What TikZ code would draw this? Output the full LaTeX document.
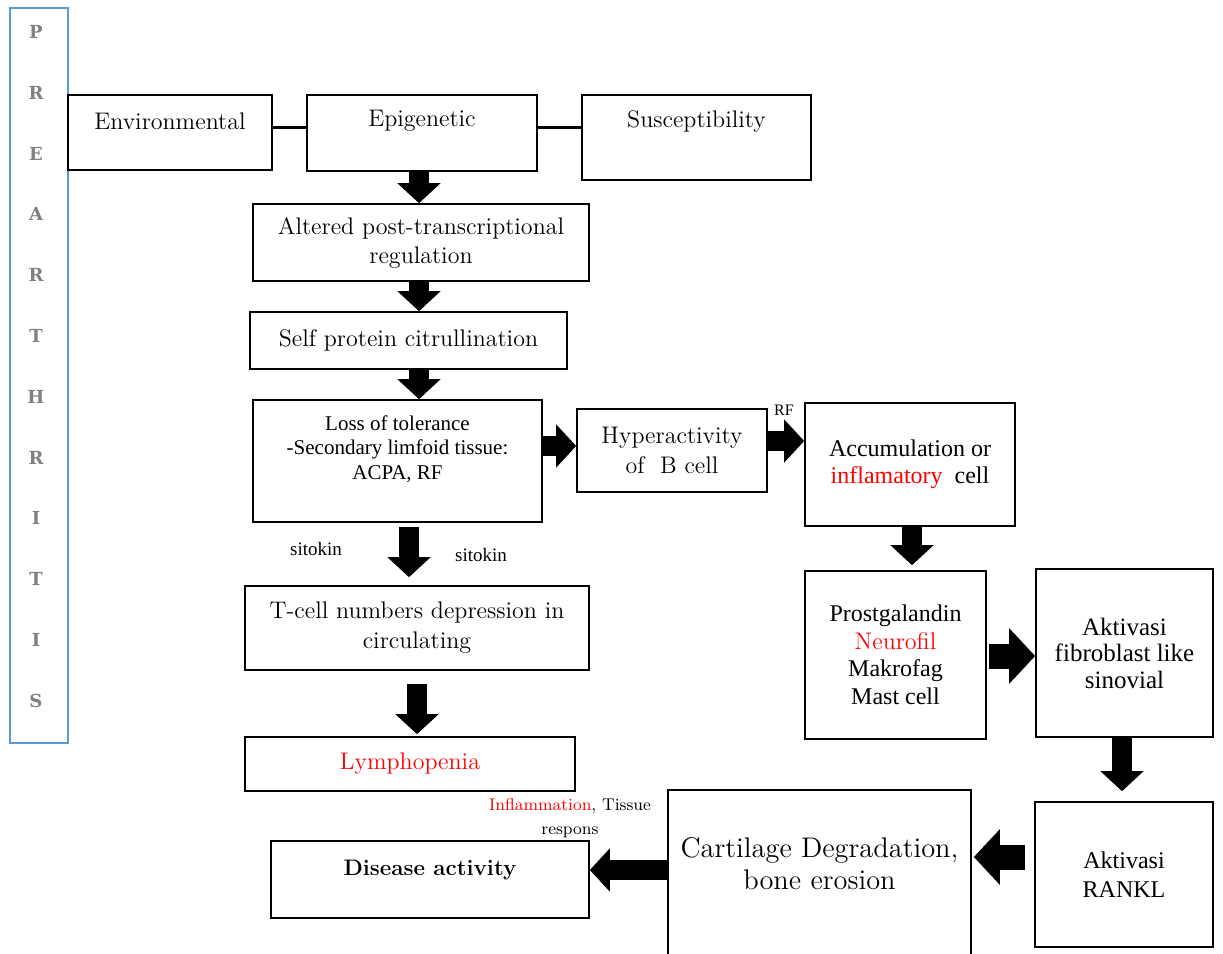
\documentclass[tikz,border=0pt]{standalone}
\usepackage{fontspec}
\usepackage{xcolor}
\usepackage{tikz}
\usetikzlibrary{arrows.meta}
\newfontfamily\tnr{Liberation Serif}
\newfontfamily\slab{DejaVu Serif}
\definecolor{wordblue}{RGB}{91,155,213}

\begin{document}
\begin{tikzpicture}[x=0.5pt, y=-0.5pt,
  box/.style={draw, line width=0.8pt, inner sep=0pt, align=center},
  blockarrow/.style={line width=10pt, -{Triangle[length=10pt, width=21pt]}},
  bigblockarrow/.style={line width=12.5pt, -{Triangle[length=13pt, width=27pt]}}]
  \useasboundingbox (0,0) rectangle (1223,954);

  % Side label
  \node[draw=wordblue, line width=1pt, minimum width=29pt, minimum height=367.5pt] (side) at (39,375.5) {};
  \foreach \ch [count=\i from 0] in {P,R,E,A,R,T,H,R,I,T,I,S}
    \node[text=black!50, font=\slab\bfseries\fontsize{9}{9}\selectfont] (side\i) at (36,{32+60.8*\i}) {\ch};

  % Top row
  \node[box, minimum width=102pt, minimum height=37.5pt,
    label={[name=envtext, yshift=5.75pt, font=\fontsize{12}{14}\selectfont]center:Environmental}] (env) at (170,132.5) {};
  \node[box, minimum width=115pt, minimum height=38pt,
    label={[name=epitext, yshift=6pt, font=\fontsize{12}{14}\selectfont]center:Epigenetic}] (epi) at (422,133) {};
  \node[box, minimum width=114.5pt, minimum height=42.5pt,
    label={[name=susctext, yshift=8.25pt, font=\fontsize{12}{14}\selectfont]center:Susceptibility}] (susc) at (696.5,137.5) {};
  \draw[line width=1.5pt] ([yshift=2.75pt]env.east) -- ([yshift=3pt]epi.west);
  \draw[line width=1.5pt] ([yshift=3pt]epi.east) -- ([yshift=5.25pt]susc.west);

  % Left column
  \node[box, minimum width=168pt, minimum height=38.5pt, font=\fontsize{12}{14.5}\selectfont] (alt) at (421,242.5) {Altered post-transcriptional\\regulation};
  \node[box, minimum width=158.5pt, minimum height=28.5pt, font=\fontsize{12}{14.5}\selectfont] (self) at (408.5,340.5) {Self protein citrullination};
  \node[box, minimum width=144.5pt, minimum height=61pt,
    label={[name=losstext, yshift=6pt, align=center, font=\tnr\fontsize{10.5}{12.25}\selectfont]center:{Loss of tolerance\\-Secondary limfoid tissue:\\ACPA, RF}}] (loss) at (397.5,461) {};
  \node[box, minimum width=172pt, minimum height=42pt, font=\fontsize{12}{15}\selectfont] (tcell) at (417,628) {T-cell numbers depression in\\circulating};
  \node[box, minimum width=165pt, minimum height=27pt, font=\fontsize{12}{14}\selectfont, text=red] (lymph) at (410,764) {Lymphopenia};
  \node[box, minimum width=159pt, minimum height=38.5pt,
    label={[name=distext, yshift=4.75pt, font=\bfseries\fontsize{11.2}{14}\selectfont]center:Disease activity}] (dis) at (430,879.5) {};

  % Right part
  \node[box, minimum width=95pt, minimum height=41.5pt, font=\fontsize{12}{15}\selectfont] (hyper) at (672,450.5) {Hyperactivity\\of\ \ B cell};
  \node[box, minimum width=105pt, minimum height=61.5pt, font=\tnr\fontsize{12}{13.5}\selectfont] (accu) at (910,464.5) {Accumulation or\\\textcolor{red}{inflamatory}\ \ cell};
  \node[box, minimum width=90.5pt, minimum height=84pt, font=\tnr\fontsize{12}{13.75}\selectfont] (prost) at (895.5,655) {Prostgalandin\\{\rmfamily\textcolor{red}{Neurofil}}\\Makrofag\\Mast cell};
  \node[box, minimum width=88.5pt, minimum height=84pt, font=\tnr\fontsize{12.5}{13.25}\selectfont] (fibro) at (1124.5,653) {Aktivasi\\fibroblast like\\sinovial};
  \node[box, minimum width=89pt, minimum height=72.5pt, font=\tnr\fontsize{12}{14.5}\selectfont] (rankl) at (1124,874.5) {Aktivasi\\RANKL};
  \node[box, minimum width=151.5pt, minimum height=110pt,
    label={[name=carttext, yshift=18pt, align=center, font=\fontsize{14.2}{16}\selectfont]center:{Cartilage Degradation,\\bone erosion}}] (cart) at (819.5,900) {};

  % Small labels
  \node[font=\tnr\fontsize{9.5}{11}\selectfont] (sitokinL) at (316,549) {sitokin};
  \node[font=\tnr\fontsize{9.5}{11}\selectfont] (sitokinR) at (481,555) {sitokin};
  \node[font=\tnr\fontsize{8}{9}\selectfont] (rf) at (784,410) {RF};
  \node[font=\fontsize{8.5}{12}\selectfont, align=center] (inflam) at (570,818) {\textcolor{red}{Inflammation}, Tissue\\respons};

  % Arrows
  \draw[blockarrow] ([xshift=-1.5pt]epi.south) -- ([xshift=-1pt]alt.north);
  \draw[blockarrow] ([xshift=-1pt]alt.south) -- ([xshift=5.25pt]self.north);
  \draw[blockarrow] ([xshift=5.25pt]self.south) -- ([xshift=10.75pt]loss.north);
  \draw[blockarrow, shorten <=2pt, shorten >=4pt] ([xshift=5.75pt]loss.south) -- ([xshift=-4pt]tcell.north);
  \draw[blockarrow, shorten <=6.5pt, shorten >=1pt] (tcell.south) -- ([xshift=3.5pt]lymph.north);
  \draw[blockarrow] ([yshift=7.5pt]loss.east) -- ([yshift=2.25pt]hyper.west);
  \draw[blockarrow] ([yshift=4.75pt]hyper.east) -- ([yshift=11.75pt]accu.west);
  \draw[blockarrow, shorten >=2.5pt] ([xshift=1pt]accu.south) -- ([xshift=8.25pt]prost.north);
  \draw[bigblockarrow, shorten <=1pt] ([yshift=-0.5pt]prost.east) -- ([yshift=-1.5pt]fibro.west);
  \draw[blockarrow, shorten >=5pt] ([xshift=-1.25pt]fibro.south) -- ([xshift=-1pt]rankl.north);
  \draw[bigblockarrow, shorten <=4.5pt, shorten >=1pt] ([yshift=8.75pt]rankl.west) -- ([yshift=21.5pt]cart.east);
  \draw[blockarrow] ([yshift=15pt]cart.west) -- ([yshift=4.75pt]dis.east);
\end{tikzpicture}
\end{document}
